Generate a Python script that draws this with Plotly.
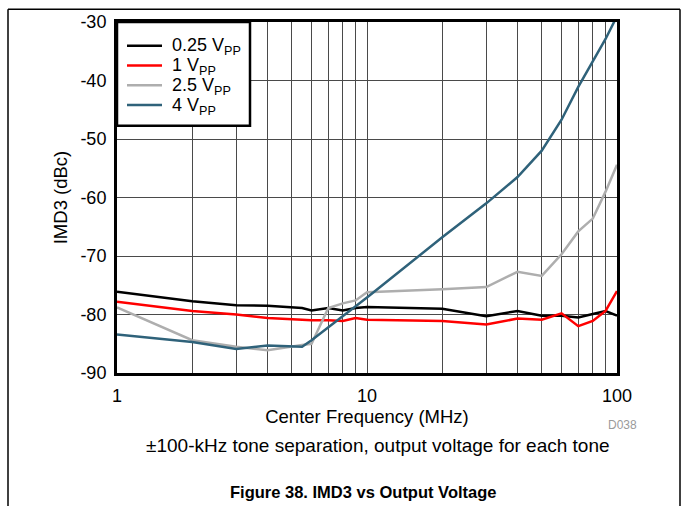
import plotly.graph_objects as go

freq = [1, 2, 3, 4, 5.5, 6, 7, 8, 9, 10, 20, 30, 40, 50, 60, 70, 80, 90, 100]
v025 = [-76.1, -77.75, -78.4, -78.5, -78.9, -79.3, -78.9, -79.3, -78.9, -78.7,
        -79.0, -80.3, -79.4, -80.2, -80.2, -80.5, -79.9, -79.4, -80.2]
v1 = [-77.8, -79.4, -80.0, -80.6, -80.9, -81.0, -81.0, -81.1, -80.6, -80.9,
      -81.1, -81.7, -80.7, -80.9, -79.8, -82.0, -81.1, -79.4, -76.0]
v25 = [-78.8, -84.4, -85.5, -86.1, -85.2, -85.0, -78.9, -78.1, -77.6, -76.2,
       -75.7, -75.3, -72.7, -73.4, -69.7, -65.8, -63.6, -59.0, -54.4]
freq4 = [1, 2, 3, 4, 5.5, 6, 10, 20, 30, 40, 50, 60, 70, 80, 90, 100]
v4 = [-83.4, -84.7, -85.9, -85.3, -85.5, -84.4, -77.1, -66.8, -61.0, -56.5,
      -52.0, -46.7, -41.1, -36.8, -32.9, -29.0]

names = ["0.25 V<sub>PP</sub>", "1 V<sub>PP</sub>", "2.5 V<sub>PP</sub>", "4 V<sub>PP</sub>"]
colors = ["#000000", "#FF0000", "#AEAEAE", "#2F627A"]
xs = [freq, freq, freq, freq4]
ys = [v025, v1, v25, v4]

xtickvals = [1, 2, 3, 4, 5, 6, 7, 8, 9, 10, 20, 30, 40, 50, 60, 70, 80, 90, 100]
xticktext = [str(v) if v in (1, 10, 100) else "" for v in xtickvals]
ytickvals = [-90, -80, -70, -60, -50, -40, -30]
yticktext = ["-90", "-80", "-70", "-60", "-50", "-40", "-30"]

FONT = "Liberation Sans, Arial, sans-serif"

fig = go.Figure()
for name, x, y, c in zip(names, xs, ys, colors):
    fig.add_trace(go.Scatter(x=x, y=y, mode="lines", name=name,
                             line=dict(color=c, width=2.5), showlegend=False))

W, H = 684, 506
L, R, T, B = 117, 617, 18, 373


def px(x):
    return (x - L) / (R - L)


def py(y):
    return (B - y) / (B - T)


fig.update_layout(
    width=W, height=H,
    margin=dict(l=L, r=W - R, t=T, b=H - B),
    paper_bgcolor="white", plot_bgcolor="white",
    font=dict(family=FONT, size=18, color="black"),
    showlegend=False,
    xaxis=dict(type="log", range=[0, 2], tickvals=xtickvals, ticktext=xticktext,
               showgrid=True, gridcolor="#4A4A4A", gridwidth=1,
               showline=True, linecolor="black", linewidth=3, mirror=True,
               ticks="", zeroline=False, ticklabelstandoff=4,
               tickfont=dict(size=18),
               title=dict(text="Center Frequency (MHz)", standoff=2,
                          font=dict(size=18.5))),
    yaxis=dict(range=[-90, -30], tickvals=ytickvals, ticktext=yticktext,
               showgrid=True, gridcolor="#4A4A4A", gridwidth=1,
               showline=True, linecolor="black", linewidth=3, mirror=True,
               ticks="", zeroline=False, ticklabelstandoff=4,
               tickfont=dict(size=18),
               title=dict(text="IMD3 (dBc)", standoff=8, font=dict(size=18.5))),
)

# legend box (drawn with paper-coordinate shapes)
fig.add_shape(type="rect", xref="paper", yref="paper", layer="above",
              x0=px(117), y0=py(123), x1=px(250), y1=py(18),
              fillcolor="white", line=dict(color="black", width=2.5))
for i, (name, c) in enumerate(zip(names, colors)):
    yy = 42 + 20 * i
    fig.add_shape(type="line", xref="paper", yref="paper", layer="above",
                  x0=px(127), y0=py(yy), x1=px(162), y1=py(yy),
                  line=dict(color=c, width=2.5))
    fig.add_annotation(text=name, xref="paper", yref="paper", x=px(170), y=py(yy + 1),
                       xanchor="left", yanchor="middle", showarrow=False,
                       font=dict(size=18, color="black"))

fig.add_annotation(text="D038", xref="paper", yref="paper", x=px(622), y=py(426),
                   xanchor="center", yanchor="middle",
                   showarrow=False, font=dict(size=12, color="#9A9A9A"))
fig.add_annotation(text="±100-kHz tone separation, output voltage for each tone",
                   xref="paper", yref="paper", x=px(378), y=py(446),
                   xanchor="center", yanchor="middle", showarrow=False,
                   font=dict(size=19, color="black"))
fig.add_annotation(text="<b>Figure 38. IMD3 vs Output Voltage</b>",
                   xref="paper", yref="paper", x=px(363), y=py(493),
                   xanchor="center", yanchor="middle", showarrow=False,
                   font=dict(size=16.5, color="black"))

# outer frame (top, left, right)
for x0, y0, x1, y1 in [(8, 5, 680, 5), (8, 5, 8, 510), (680, 5, 680, 510)]:
    fig.add_shape(type="line", xref="paper", yref="paper",
                  x0=px(x0), y0=py(y0), x1=px(x1), y1=py(y1),
                  line=dict(color="black", width=1.5))

fig.write_html("out.html", post_script="document.body.style.margin='0';",
               config={"displayModeBar": False})
